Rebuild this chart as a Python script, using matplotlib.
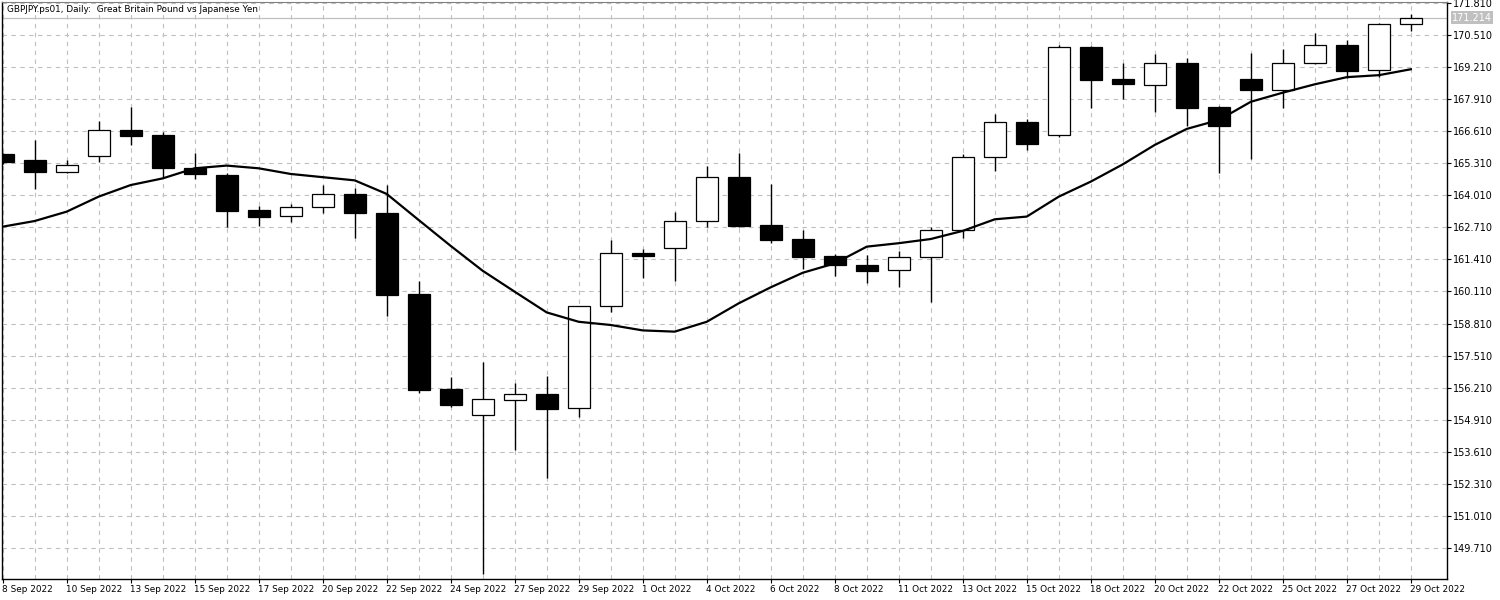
import matplotlib
matplotlib.use("Agg")
import matplotlib.pyplot as plt
import matplotlib.transforms as mtransforms
import numpy as np

title = "GBPJPY.ps01, Daily:  Great Britain Pound vs Japanese Yen"

tick_labels = ["8 Sep 2022", "10 Sep 2022", "13 Sep 2022", "15 Sep 2022", "17 Sep 2022",
               "20 Sep 2022", "22 Sep 2022", "24 Sep 2022", "27 Sep 2022", "29 Sep 2022",
               "1 Oct 2022", "4 Oct 2022", "6 Oct 2022", "8 Oct 2022", "11 Oct 2022",
               "13 Oct 2022", "15 Oct 2022", "18 Oct 2022", "20 Oct 2022", "22 Oct 2022",
               "25 Oct 2022", "27 Oct 2022", "29 Oct 2022"]

opens = [165.69, 165.45, 164.97, 165.60, 166.67, 166.46, 165.14, 164.84, 163.42, 163.16,
         163.53, 164.07, 163.31, 160.01, 156.15, 155.11, 155.72, 155.94, 155.37, 159.51,
         161.66, 161.86, 162.96, 164.75, 162.80, 162.24, 161.55, 161.18, 160.97, 161.50,
         162.59, 165.56, 166.98, 166.48, 170.04, 168.74, 168.51, 169.39, 167.60, 168.74,
         168.30, 169.37, 170.12, 169.09, 170.96]
highs = [165.75, 166.26, 165.45, 167.03, 167.61, 166.57, 165.74, 164.93, 163.58, 163.66,
         164.43, 164.30, 164.43, 160.54, 156.64, 157.25, 156.41, 156.69, 159.53, 162.20,
         161.85, 163.32, 165.20, 165.74, 164.47, 162.61, 161.63, 161.60, 161.75, 162.74,
         165.69, 167.32, 167.10, 170.12, 170.07, 169.40, 169.76, 169.59, 167.62, 169.80,
         169.95, 170.60, 170.32, 171.02, 171.38]
lows = [165.30, 164.26, 164.93, 165.37, 166.06, 164.70, 164.66, 162.73, 162.77, 162.94,
        163.31, 162.29, 159.13, 156.00, 155.43, 148.64, 153.67, 152.55, 155.03, 159.29,
        160.67, 160.55, 162.74, 162.72, 162.09, 161.03, 160.75, 160.47, 160.30, 159.69,
        162.29, 165.00, 165.85, 166.40, 167.57, 167.92, 167.41, 166.84, 164.93, 165.49,
        167.57, 169.33, 168.76, 168.82, 170.70]
closes = [165.38, 164.97, 165.24, 166.67, 166.43, 165.14, 164.87, 163.39, 163.15, 163.53,
          164.06, 163.28, 159.98, 156.11, 155.50, 155.73, 155.94, 155.34, 159.51, 161.66,
          161.56, 162.96, 164.75, 162.78, 162.21, 161.52, 161.20, 160.95, 161.50, 162.61,
          165.56, 166.98, 166.11, 170.02, 168.70, 168.53, 169.39, 167.57, 166.84, 168.30,
          169.39, 170.12, 169.07, 170.96, 171.21]
ma = [162.74, 162.97, 163.35, 163.96, 164.43, 164.70, 165.11, 165.22, 165.11, 164.88,
      164.75, 164.62, 164.07, 163.01, 161.96, 160.95, 160.10, 159.26, 158.88, 158.75,
      158.53, 158.48, 158.88, 159.63, 160.28, 160.87, 161.25, 161.93, 162.07, 162.24,
      162.57, 163.04, 163.15, 163.96, 164.57, 165.27, 166.06, 166.71, 167.07, 167.81,
      168.18, 168.52, 168.81, 168.89, 169.13]
price_ticks = [171.810, 170.510, 169.210, 167.910, 166.610, 165.310, 164.010, 162.710,
               161.410, 160.110, 158.810, 157.510, 156.210, 154.910, 153.610, 152.310,
               151.010, 149.710]
bid = 171.214

W, H = 1500, 600
fig = plt.figure(figsize=(W / 100, H / 100), dpi=100)
fig.patch.set_facecolor("white")
left, right, top, bottom = 2, 1447, 2, 578.5
ax = fig.add_axes([left / W, 1 - bottom / H, (right - left) / W, (bottom - top) / H])
ax.set_facecolor("white")

n = len(opens)
idx = np.arange(n)
o = np.array(opens); c = np.array(closes); h = np.array(highs); l = np.array(lows)
up = c >= o

grid_col = "#c0c0c0"
for y in price_ticks:
    ax.axhline(y, color=grid_col, lw=0.8, ls=(0, (4, 4)), zorder=0)
for x in idx:
    ax.axvline(x, color=grid_col, lw=0.8, ls=(0, (4, 4)), zorder=0)
ax.axhline(bid, color="#c0c0c0", lw=0.9, zorder=1)

ax.vlines(idx, l, h, color="black", lw=1.0, zorder=2)
bw = 0.69
body_bottom = np.minimum(o, c)
body_h = np.maximum(np.abs(c - o), 0.04)
ax.bar(idx[up], body_h[up], bottom=body_bottom[up], width=bw, color="white",
       edgecolor="black", linewidth=0.9, zorder=3)
ax.bar(idx[~up], body_h[~up], bottom=body_bottom[~up], width=bw, color="black",
       edgecolor="black", linewidth=0.9, zorder=3)

ax.plot(idx, ma, color="black", lw=1.6, zorder=4)

ax.set_xlim(-0.02, 45.13)
ax.set_ylim(148.46, 171.86)

ax.yaxis.tick_right()
ax.set_yticks(price_ticks)
ax.set_yticklabels([f"{v:.3f}" for v in price_ticks])
ax.tick_params(axis="y", direction="out", length=3, width=0.8, pad=1.5,
               labelsize=7, colors="black")
ax.set_xticks(idx[::2])
ax.set_xticklabels(tick_labels, ha="left")
ax.tick_params(axis="x", direction="out", length=3, width=0.8, pad=2,
               labelsize=6.4, colors="black")
offset = mtransforms.ScaledTranslation(-1 / 100, 0, fig.dpi_scale_trans)
for lab in ax.get_xticklabels():
    lab.set_transform(lab.get_transform() + offset)

for side in ["left", "right", "bottom"]:
    ax.spines[side].set_color("black")
    ax.spines[side].set_linewidth(1.0)
ax.spines["top"].set_color("#808080")
ax.spines["top"].set_linewidth(0.8)

ax.text(5 / (right - left), 1 - 7 / (bottom - top), title, transform=ax.transAxes,
        fontsize=6.4, va="center", ha="left", color="black")

ax.text(1.0 + 5 / (right - left), bid, f"{bid:.3f}", transform=ax.get_yaxis_transform(),
        fontsize=7, color="white", va="center", ha="left",
        bbox=dict(boxstyle="square,pad=0.15", facecolor="#c0c0c0", edgecolor="none"),
        zorder=10, clip_on=False)

fig.savefig("out.png", dpi=100, facecolor="white")
